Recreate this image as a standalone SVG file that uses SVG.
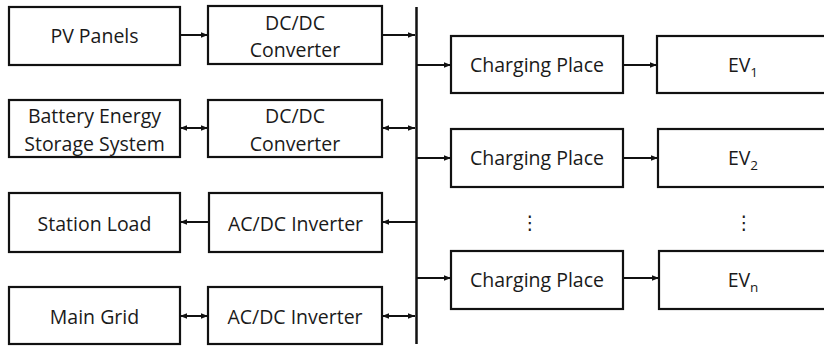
<svg xmlns="http://www.w3.org/2000/svg" width="824" height="350" viewBox="0 0 824 350">
  <style>
    .box { fill: #ffffff; stroke: #111111; stroke-width: 2.2; }
    .lbl { font-family: "Open Sans", "Noto Sans", "DejaVu Sans", sans-serif; font-size: 19.5px; fill: #1a1a1a; text-anchor: middle; }
    .sub { font-size: 13.5px; }
    .dots { font-family: "DejaVu Sans", sans-serif; font-size: 19px; fill: #1a1a1a; text-anchor: middle; }
    .wire { stroke: #111111; stroke-width: 2; fill: none; }
    .bus { stroke: #111111; stroke-width: 2.5; fill: none; }
  </style>
  <defs>
    <marker id="head" viewBox="0 0 8 8" refX="8" refY="4" markerWidth="7" markerHeight="7" markerUnits="userSpaceOnUse" orient="auto-start-reverse">
      <path d="M0,0.8 L8,4 L0,7.2 Z" fill="#111111"/>
    </marker>
  </defs>

  <rect width="824" height="350" fill="#ffffff"/>

  <!-- Source side -->
  <g id="pv-panels">
    <rect class="box" x="9" y="7" width="171" height="58"/>
    <text class="lbl" x="94.5" y="43">PV Panels</text>
  </g>
  <g id="dcdc-pv">
    <rect class="box" x="208" y="6" width="174" height="58"/>
    <text class="lbl" x="295" y="30">DC/DC</text>
    <text class="lbl" x="295" y="57">Converter</text>
  </g>
  <g id="bess">
    <rect class="box" x="9" y="100" width="171" height="57"/>
    <text class="lbl" x="94.5" y="123">Battery Energy</text>
    <text class="lbl" x="94.5" y="151">Storage System</text>
  </g>
  <g id="dcdc-bess">
    <rect class="box" x="208" y="100" width="174" height="57"/>
    <text class="lbl" x="295" y="123">DC/DC</text>
    <text class="lbl" x="295" y="151">Converter</text>
  </g>
  <g id="station-load">
    <rect class="box" x="9" y="193" width="171" height="59"/>
    <text class="lbl" x="94.5" y="231">Station Load</text>
  </g>
  <g id="acdc-load">
    <rect class="box" x="209" y="193" width="173" height="59"/>
    <text class="lbl" x="295.5" y="231">AC/DC Inverter</text>
  </g>
  <g id="main-grid">
    <rect class="box" x="9" y="287" width="171" height="57"/>
    <text class="lbl" x="94.5" y="324">Main Grid</text>
  </g>
  <g id="acdc-grid">
    <rect class="box" x="208" y="287" width="174" height="57"/>
    <text class="lbl" x="295" y="324">AC/DC Inverter</text>
  </g>

  <!-- Charging side -->
  <g id="charging-place-1">
    <rect class="box" x="451" y="36" width="172" height="57"/>
    <text class="lbl" x="537" y="72">Charging Place</text>
  </g>
  <g id="ev-1">
    <rect class="box" x="657" y="36" width="172" height="57"/>
    <text class="lbl" x="743" y="72">EV<tspan class="sub" dy="5">1</tspan></text>
  </g>
  <g id="charging-place-2">
    <rect class="box" x="451" y="129" width="172" height="58"/>
    <text class="lbl" x="537" y="165">Charging Place</text>
  </g>
  <g id="ev-2">
    <rect class="box" x="658" y="129" width="172" height="58"/>
    <text class="lbl" x="743" y="165">EV<tspan class="sub" dy="5">2</tspan></text>
  </g>
  <g id="ellipsis">
    <text class="dots" x="530" y="229">⋮</text>
    <text class="dots" x="744" y="229">⋮</text>
  </g>
  <g id="charging-place-n">
    <rect class="box" x="451" y="251" width="172" height="58"/>
    <text class="lbl" x="537" y="287">Charging Place</text>
  </g>
  <g id="ev-n">
    <rect class="box" x="659" y="251" width="172" height="58"/>
    <text class="lbl" x="743" y="287">EV<tspan class="sub" dy="5">n</tspan></text>
  </g>

  <!-- Connectors and DC bus -->
  <g id="connectors">
    <line class="bus" x1="416.5" y1="7" x2="416.5" y2="344"/>

    <line class="wire" x1="180" y1="35" x2="208" y2="35" marker-end="url(#head)"/>
    <line class="wire" x1="382" y1="35" x2="415" y2="35" marker-end="url(#head)"/>

    <line class="wire" x1="180" y1="128" x2="208" y2="128" marker-start="url(#head)" marker-end="url(#head)"/>
    <line class="wire" x1="382" y1="128" x2="415" y2="128" marker-start="url(#head)" marker-end="url(#head)"/>

    <line class="wire" x1="416" y1="222" x2="382" y2="222" marker-end="url(#head)"/>
    <line class="wire" x1="209" y1="222" x2="180" y2="222" marker-end="url(#head)"/>

    <line class="wire" x1="180" y1="316" x2="208" y2="316" marker-start="url(#head)" marker-end="url(#head)"/>
    <line class="wire" x1="382" y1="316" x2="415" y2="316" marker-start="url(#head)" marker-end="url(#head)"/>

    <line class="wire" x1="417" y1="65" x2="451" y2="65" marker-end="url(#head)"/>
    <line class="wire" x1="623" y1="65" x2="657" y2="65" marker-end="url(#head)"/>

    <line class="wire" x1="417" y1="158" x2="451" y2="158" marker-end="url(#head)"/>
    <line class="wire" x1="623" y1="158" x2="658" y2="158" marker-end="url(#head)"/>

    <line class="wire" x1="417" y1="278" x2="451" y2="278" marker-end="url(#head)"/>
    <line class="wire" x1="623" y1="278" x2="659" y2="278" marker-end="url(#head)"/>
  </g>
</svg>
